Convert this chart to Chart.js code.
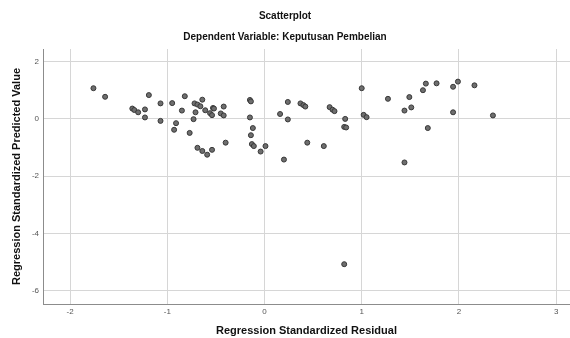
<!DOCTYPE html>
<html>
<head>
<meta charset="utf-8">
<script src="https://cdn.jsdelivr.net/npm/chart.js@4/dist/chart.umd.min.js"></script>
<style>
  html, body { margin: 0; padding: 0; background: #fff; }
  #wrap { width: 570px; height: 338px; }
</style>
</head>
<body>
<div id="wrap"><canvas id="scatter" width="570" height="338"></canvas></div>
<script>
// --- values ---
const residual = [
  -1.76, -1.64, -1.36, -1.34, -1.30, -1.23, -1.23, -1.19, -1.07, -1.07,
  -0.95, -0.85, -0.82, -0.93, -0.91, -0.77, -0.73, -0.71, -0.72, -0.69,
  -0.66, -0.64, -0.61, -0.56, -0.54, -0.53, -0.52, -0.45, -0.42, -0.42,
  -0.40, -0.69, -0.64, -0.59, -0.54, -0.15, -0.14, -0.15, -0.12, -0.14,
  -0.13, -0.11, -0.04, 0.01, 0.16, 0.24, 0.24, 0.20, 0.37, 0.40,
  0.42, 0.44, 0.61, 0.67, 0.70, 0.72, 0.83, 0.82, 0.84, 1.00,
  1.02, 1.05, 1.27, 1.49, 1.44, 1.51, 1.63, 1.66, 1.77, 1.94,
  1.99, 2.16, 1.94, 2.35, 1.68, 1.44, 0.82
];
const predicted = [
  1.07, 0.77, 0.36, 0.31, 0.23, 0.33, 0.05, 0.83, 0.54, -0.07,
  0.55, 0.29, 0.79, -0.38, -0.15, -0.49, -0.01, 0.23, 0.54, 0.50,
  0.44, 0.67, 0.30, 0.20, 0.13, 0.38, 0.36, 0.19, 0.43, 0.12,
  -0.83, -1.01, -1.12, -1.25, -1.08, 0.66, 0.61, 0.05, -0.32, -0.57,
  -0.88, -0.95, -1.14, -0.95, 0.17, 0.59, -0.02, -1.42, 0.54, 0.48,
  0.43, -0.83, -0.95, 0.41, 0.32, 0.27, 0.00, -0.28, -0.30, 1.07,
  0.14, 0.06, 0.70, 0.76, 0.29, 0.40, 1.00, 1.23, 1.24, 1.12,
  1.30, 1.17, 0.23, 0.12, -0.32, -1.52, -5.07
];
const xTicks = [-2, -1, 0, 1, 2, 3];
const yTicks = [-6, -4, -2, 0, 2];

const points = residual.map((x, i) => ({ x: x, y: predicted[i] }));
const FONT = '"Liberation Sans", Arial, sans-serif';

new Chart(document.getElementById('scatter'), {
  type: 'scatter',
  data: {
    datasets: [{
      data: points,
      pointRadius: 2.5,
      pointBorderWidth: 1,
      backgroundColor: '#6e6e6e',
      borderColor: '#383838'
    }]
  },
  options: {
    responsive: false,
    animation: false,
    layout: { padding: 0, autoPadding: false },
    plugins: {
      legend: { display: false },
      tooltip: { enabled: false },
      title: {
        display: true,
        text: 'Scatterplot',
        color: '#111',
        font: { family: FONT, size: 10, weight: 'bold' },
        padding: { top: 10, bottom: 6 }
      },
      subtitle: {
        display: true,
        text: 'Dependent Variable: Keputusan Pembelian',
        color: '#111',
        font: { family: FONT, size: 10, weight: 'bold' },
        padding: { top: 3, bottom: 6 }
      }
    },
    scales: {
      x: {
        type: 'linear',
        min: -2.279,
        max: 3.143,
        afterBuildTicks: s => { s.ticks = xTicks.map(v => ({ value: v })); },
        afterFit: s => { s.height = 34; s.paddingLeft = 0; s.paddingRight = 0; },
        grid: { color: '#d6d6d6', lineWidth: 1, drawTicks: false },
        border: { color: '#8c8c8c', width: 1 },
        ticks: { color: '#555', padding: 3, font: { family: FONT, size: 8 } },
        title: {
          display: true,
          text: 'Regression Standardized Residual',
          color: '#111',
          font: { family: FONT, size: 11, weight: 'bold' },
          padding: { top: 0, bottom: 0 }
        }
      },
      y: {
        type: 'linear',
        min: -6.459,
        max: 2.438,
        afterBuildTicks: s => { s.ticks = yTicks.map(v => ({ value: v })); },
        afterFit: s => { s.width = 43; s.paddingTop = 0; s.paddingBottom = 0; },
        grid: { color: '#d6d6d6', lineWidth: 1, drawTicks: false },
        border: { color: '#8c8c8c', width: 1 },
        ticks: { color: '#555', padding: 4, font: { family: FONT, size: 8 } },
        title: {
          display: true,
          text: 'Regression Standardized Predicted Value',
          color: '#111',
          font: { family: FONT, size: 11, weight: 'bold' },
          padding: { top: 10, bottom: 0 }
        }
      }
    }
  }
});
</script>
</body>
</html>
